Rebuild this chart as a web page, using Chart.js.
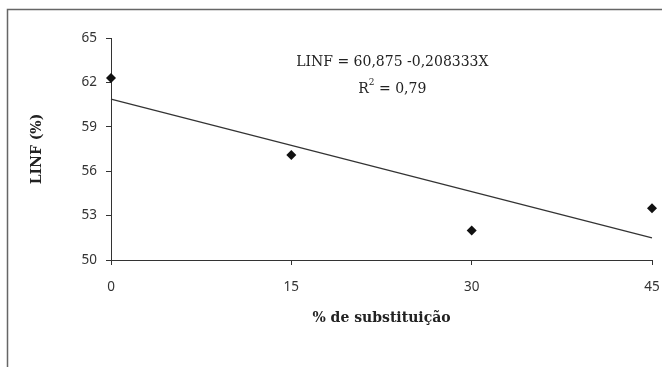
<!DOCTYPE html>
<html>
<head>
<meta charset="utf-8">
<script src="https://cdn.jsdelivr.net/npm/chart.js@4"></script>
<style>
  html, body { margin: 0; padding: 0; background: #fff; }
  #wrap { width: 662px; height: 367px; }
</style>
</head>
<body>
<div id="wrap"><canvas id="chart" width="662" height="367"></canvas></div>
<script>
// values
const substitution = [0, 15, 30, 45];
const linf = [62.3, 57.1, 52.0, 53.5];
const trendX = [0, 45];
const trendY = [60.875, 51.5];
const equationText = "LINF = 60,875 -0,208333X";
const r2Text = "0,79";

const tickFont = { family: "Noto Sans", size: 13.5 };
const titleFont = { family: "DejaVu Serif", size: 14, weight: "bold" };

// frame around the whole figure + regression equation
const decorations = {
    id: "decorations",
    beforeDraw(chart) {
        const ctx = chart.ctx;
        ctx.save();
        ctx.strokeStyle = "#666";
        ctx.lineWidth = 1.5;
        ctx.beginPath();
        ctx.moveTo(7.5, 400);
        ctx.lineTo(7.5, 9.5);
        ctx.lineTo(700, 9.5);
        ctx.stroke();
        ctx.restore();
    },
    afterDraw(chart) {
        const ctx = chart.ctx;
        const x = chart.scales.x.getPixelForValue(23.4);
        const y1 = chart.scales.y.getPixelForValue(63.35);
        const y2 = chart.scales.y.getPixelForValue(61.55);
        ctx.save();
        ctx.fillStyle = "#222";
        ctx.textBaseline = "middle";
        ctx.textAlign = "center";
        ctx.font = "14px 'DejaVu Serif'";
        ctx.fillText(equationText, x, y1);

        const left = "R";
        const right = " = " + r2Text;
        const wl = ctx.measureText(left).width;
        ctx.font = "9px 'DejaVu Serif'";
        const ws = ctx.measureText("2").width;
        ctx.font = "14px 'DejaVu Serif'";
        const wr = ctx.measureText(right).width;
        let sx = x - (wl + ws + wr) / 2;
        ctx.textAlign = "left";
        ctx.fillText(left, sx, y2);
        sx += wl;
        ctx.font = "9px 'DejaVu Serif'";
        ctx.fillText("2", sx, y2 - 6);
        sx += ws;
        ctx.font = "14px 'DejaVu Serif'";
        ctx.fillText(right, sx, y2);
        ctx.restore();
    }
};

const ctx = document.getElementById("chart").getContext("2d");
new Chart(ctx, {
    type: "scatter",
    data: {
        datasets: [
            {
                type: "line",
                data: trendX.map((x, i) => ({ x: x, y: trendY[i] })),
                borderColor: "#333",
                borderWidth: 1.2,
                pointRadius: 0,
                fill: false,
                clip: false
            },
            {
                data: substitution.map((x, i) => ({ x: x, y: linf[i] })),
                pointStyle: "rectRot",
                pointRadius: 5,
                backgroundColor: "#111",
                borderColor: "#111",
                borderWidth: 0,
                clip: false
            }
        ]
    },
    options: {
        responsive: false,
        animation: false,
        events: [],
        layout: { padding: { top: 38, right: 0, bottom: 0, left: 0 } },
        plugins: { legend: { display: false }, tooltip: { enabled: false } },
        scales: {
            x: {
                type: "linear",
                min: 0,
                max: 45,
                afterFit: (scale) => {
                    scale.height = 107;
                    scale.paddingRight = 10;
                },
                ticks: { stepSize: 15, color: "#333", font: tickFont, padding: 14 },
                grid: { drawOnChartArea: false, drawTicks: true, tickLength: 5, color: "#333" },
                border: { color: "#333", width: 1 },
                title: {
                    display: true,
                    text: "% de substituição",
                    color: "#222",
                    font: titleFont,
                    padding: { top: 0, bottom: 40 }
                }
            },
            y: {
                min: 50,
                max: 65,
                afterFit: (scale) => { scale.width = 111; },
                ticks: { stepSize: 3, color: "#333", font: tickFont, padding: 9 },
                grid: { drawOnChartArea: false, drawTicks: true, tickLength: 5, color: "#333" },
                border: { color: "#333", width: 1 },
                title: {
                    display: true,
                    text: "LINF (%)",
                    color: "#222",
                    font: titleFont,
                    padding: { top: 29, bottom: 0 }
                }
            }
        }
    },
    plugins: [decorations]
});
</script>
</body>
</html>
